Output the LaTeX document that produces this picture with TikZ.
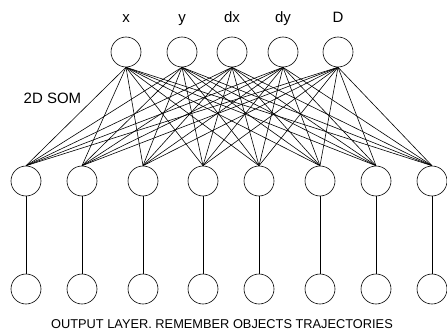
\documentclass[tikz,border=0pt]{standalone}
\usepackage{fontspec}
\setmainfont{Liberation Sans}
\begin{document}
\begin{tikzpicture}[x=1pt,y=-1pt,
  neuron/.style={draw,circle,minimum size=30pt,inner sep=0pt,line width=0.6pt},
  link/.style={line width=0.6pt},
  lbl/.style={font=\fontsize{15}{17}\selectfont,inner sep=0pt},
  caption/.style={font=\fontsize{12.8}{15}\selectfont,inner sep=0pt}]
\useasboundingbox (0,0) rectangle (447,332);
% input layer
\foreach \n/\x/\t in {1/126/x,2/182/y,3/232/dx,4/283/dy,5/338/D}{
  \node[neuron] (in\n) at (\x,52) {};
  \node[lbl,anchor=base] (lab\n) at (\x,23) {\t};
}
% SOM layer and output layer
\foreach \n/\x in {1/26,2/82,3/143,4/203,5/259,6/320,7/376,8/432}{
  \node[neuron] (som\n) at (\x,181) {};
  \node[neuron] (out\n) at (\x,289) {};
  \draw[link] (som\n.south) -- (out\n.north);
}
% full connection input -> SOM
\foreach \i in {1,...,5}{
  \foreach \j in {1,...,8}{
    \draw[link] (in\i.south) -- (som\j.north);
  }
}
\node[lbl,anchor=base] (som) at (52.5,103) {2D SOM};
\node[caption,anchor=base] (cap) at (222,328) {OUTPUT LAYER. REMEMBER OBJECTS TRAJECTORIES};
\end{tikzpicture}
\end{document}
